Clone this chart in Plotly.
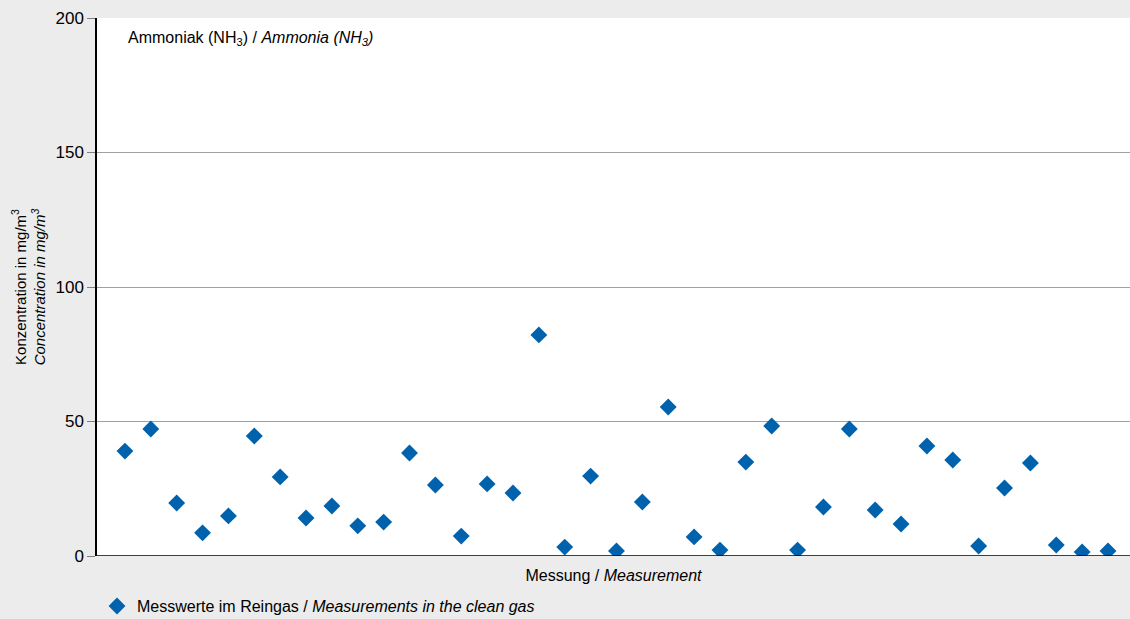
import plotly.graph_objects as go

measurement = list(range(1, 40))
values = [39.0, 47.2, 19.7, 8.6, 14.9, 44.6, 29.4, 14.1, 18.6, 11.2,
          12.6, 38.3, 26.4, 7.4, 26.8, 23.4, 82.2, 3.3, 29.7, 1.9,
          20.1, 55.4, 7.1, 2.2, 34.9, 48.3, 2.2, 18.2, 47.2, 17.1,
          11.9, 40.9, 35.7, 3.7, 25.3, 34.6, 4.1, 1.5, 1.9]
y_ticks = [0, 50, 100, 150, 200]

FONT = "Liberation Sans Narrow, Arial Narrow, Liberation Sans, sans-serif"
BLUE = "#0062ad"
BG = "#ebeceb"

fig = go.Figure()
fig.add_trace(go.Scatter(
    x=measurement, y=values, mode="markers",
    marker=dict(symbol="diamond", size=13, color=BLUE),
    name="Messwerte im Reingas / <i>Measurements in the clean gas</i>",
    showlegend=True,
))

fig.update_layout(
    width=1130, height=619,
    margin=dict(l=97, r=0, t=18, b=63, autoexpand=False),
    paper_bgcolor=BG, plot_bgcolor="white",
    font=dict(family=FONT, size=16, color="black"),
    showlegend=True,
    legend=dict(orientation="h", x=0.0, xanchor="left", y=-0.093, yanchor="middle",
                bgcolor="rgba(0,0,0,0)", font=dict(size=16), itemwidth=30),
    xaxis=dict(range=[-0.08, 39.85], showgrid=False, zeroline=False,
               showticklabels=False, ticks="", showline=False, automargin=False,
               title=dict(text="Messung / <i>Measurement</i>", standoff=13,
                          font=dict(size=16))),
    yaxis=dict(range=[0, 200], tickvals=y_ticks, showgrid=True, gridcolor="#a0a0a0",
               gridwidth=1, zeroline=False, showline=True, linecolor="black",
               linewidth=1.5, ticks="outside", ticklen=8, tickcolor="#808080",
               tickfont=dict(size=17), automargin=False,
               title=dict(text="Konzentration in mg/m<sup>3</sup><br><i>Concentration in mg/m<sup>3</sup></i>",
                          standoff=6, font=dict(size=15))),
)

fig.add_shape(type="line", xref="paper", yref="y", x0=0, x1=1, y0=0, y1=0,
              line=dict(color="black", width=1.5))

fig.add_annotation(text="Ammoniak (NH<sub>3</sub>) / <i>Ammonia (NH<sub>3</sub>)</i>",
                   xref="paper", yref="paper", x=0.028, y=0.962,
                   xanchor="left", yanchor="middle", showarrow=False,
                   font=dict(size=16))

fig.write_html("out.html", config={"displayModeBar": False},
               post_script="document.body.style.margin='0';")
